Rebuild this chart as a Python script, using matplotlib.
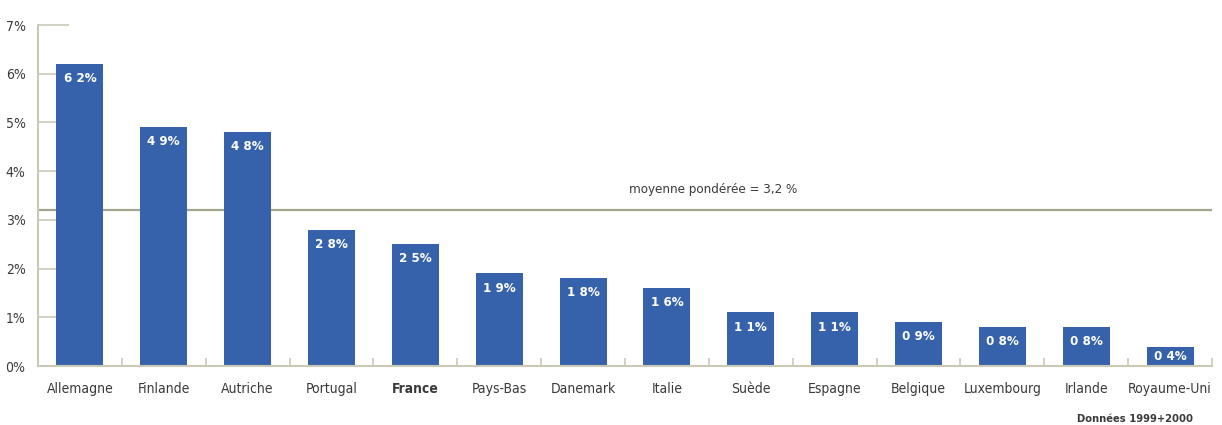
import matplotlib.pyplot as plt
from matplotlib import font_manager

# Pays et part (en %) de chaque pays
pays = ["Allemagne", "Finlande", "Autriche", "Portugal", "France", "Pays-Bas",
        "Danemark", "Italie", "Suède", "Espagne", "Belgique", "Luxembourg",
        "Irlande", "Royaume-Uni"]
valeurs = [6.2, 4.9, 4.8, 2.8, 2.5, 1.9, 1.8, 1.6, 1.1, 1.1, 0.9, 0.8, 0.8, 0.4]
etiquettes = ["6 2%", "4 9%", "4 8%", "2 8%", "2 5%", "1 9%", "1 8%", "1 6%",
              "1 1%", "1 1%", "0 9%", "0 8%", "0 8%", "0 4%"]
moyenne = 3.2
yticks = [0, 1, 2, 3, 4, 5, 6, 7]

# police étroite si disponible
condensed = any(f.name == "DejaVu Sans" and f.stretch in ("condensed", 600)
                for f in font_manager.fontManager.ttflist)
if condensed:
    plt.rcParams["font.family"] = ["DejaVu Sans"]
    plt.rcParams["font.stretch"] = "condensed"
else:
    plt.rcParams["font.family"] = ["Liberation Sans", "DejaVu Sans"]
base = 10

bleu = "#3562aa"
beige = "#c9c9b6"
gris = "#3a3a3a"

fig = plt.figure(figsize=(12.22, 4.25), dpi=100)
ax = fig.add_axes([38 / 1222, 1 - 366 / 425, (1212 - 38) / 1222, (366 - 25) / 425])

x = range(len(pays))
ax.bar(x, valeurs, width=0.56, color=bleu, zorder=2)
for i, (v, lab) in enumerate(zip(valeurs, etiquettes)):
    # étiquette en haut de la barre, centrée si la barre est trop courte
    ax.text(i, max(v - 0.3, v / 2), lab, ha="center", va="center", color="white",
            fontsize=9.5, fontweight="bold", zorder=3)

# moyenne pondérée
ax.axhline(moyenne, color="#a5a58f", lw=1.6, zorder=1)
ax.text(7.55, moyenne + 0.3, "moyenne pondérée = 3,2 %", ha="center", va="bottom",
        fontsize=9.5, color=gris)

ax.set_xlim(-0.5, len(pays) - 0.5)
ax.set_ylim(0, 7)
ax.set_yticks(yticks)
ax.set_yticklabels([f"{t}%" for t in yticks], fontsize=base, color=gris)
ax.set_xticks([i + 0.5 for i in range(len(pays))])
ax.set_xticklabels([])
ax.tick_params(axis="y", direction="in", length=22, width=1.2, color=beige, pad=9)
ax.tick_params(axis="x", direction="in", length=6, width=1.2, color=beige)

for i, p in enumerate(pays):
    ax.text(i, -0.32, p, ha="center", va="top", fontsize=base, color=gris,
            fontweight="bold" if p == "France" else "normal", clip_on=False)

for s in ["top", "right"]:
    ax.spines[s].set_visible(False)
for s in ["left", "bottom"]:
    ax.spines[s].set_color(beige)
    ax.spines[s].set_linewidth(1.5)

fig.text(1193 / 1222, 1 - 419 / 425, "Données 1999+2000", ha="right", va="center",
         fontsize=base - 2, fontweight="bold", color=gris)

fig.savefig("out.png", dpi=100)
